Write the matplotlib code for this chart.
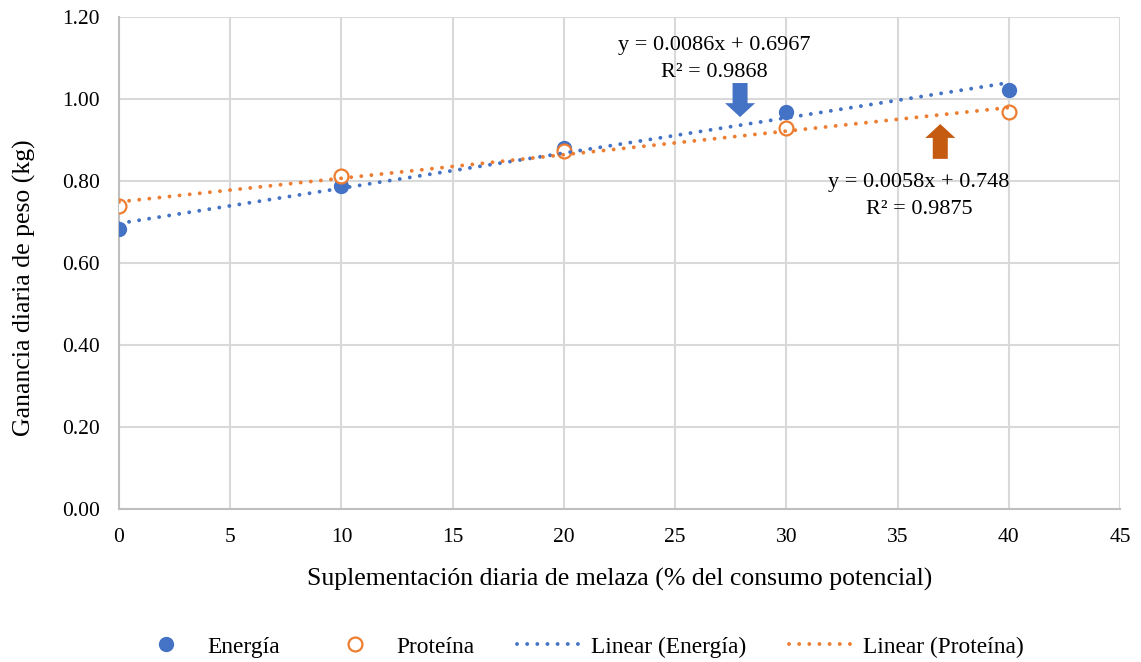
import matplotlib
matplotlib.use("Agg")
import matplotlib.pyplot as plt
import numpy as np

plt.rcParams['font.family'] = ['Liberation Serif', 'DejaVu Serif']

x_vals = [0, 10, 20, 30, 40]
energia = [0.683, 0.788, 0.880, 0.968, 1.022]
proteina = [0.739, 0.812, 0.873, 0.929, 0.968]
xticks = list(range(0, 50, 5))
yticks = [0.0, 0.2, 0.4, 0.6, 0.8, 1.0, 1.2]

blue = '#4472C4'
orange = '#ED7D31'
dark_orange = '#C55A11'

fig = plt.figure(figsize=(11.41, 6.62), dpi=100)
ax = fig.add_axes([0.1043, 0.2311, 0.9816 - 0.1043, 0.9743 - 0.2311])

xs = np.array(x_vals, dtype=float)
ce = np.polyfit(xs, energia, 1)
cp = np.polyfit(xs, proteina, 1)
xl = np.array([0, 40])

ax.plot(xs, energia, 'o', color=blue, markersize=10, label='Energía', zorder=3)
ax.plot(xs, proteina, 'o', markerfacecolor='white', markeredgecolor=orange,
        markeredgewidth=1.6, markersize=10, label='Proteína', zorder=3)
ax.plot(xl, np.polyval(ce, xl), linestyle=(0, (0.01, 2.6)), color=blue, linewidth=2.8,
        dash_capstyle='round', label='Linear (Energía)', zorder=4)
ax.plot(xl, np.polyval(cp, xl), linestyle=(0, (0.01, 2.6)), color=orange, linewidth=2.8,
        dash_capstyle='round', label='Linear (Proteína)', zorder=4)

ax.set_xlim(0, 45)
ax.set_ylim(0, 1.2)
ax.set_xticks(xticks)
ax.set_yticks(yticks)
ax.set_yticklabels([f'{v:.2f}' for v in yticks])
ax.tick_params(axis='both', length=0, labelsize=15.5)
ax.tick_params(axis='x', pad=14)
ax.tick_params(axis='y', pad=14)
ax.grid(True, color='#D9D9D9', linewidth=1.5)
ax.set_axisbelow(True)
for s in ['top', 'right']:
    ax.spines[s].set_visible(False)
ax.spines['left'].set_color('#BFBFBF')
ax.spines['bottom'].set_color('#BFBFBF')
ax.spines['left'].set_linewidth(1.5)
ax.spines['bottom'].set_linewidth(1.5)

ax.set_xlabel('Suplementación diaria de melaza (% del consumo potencial)', fontsize=18.5)
ax.set_ylabel('Ganancia diaria de peso (kg)', fontsize=18.5)
ax.xaxis.set_label_coords(0.5, -0.120)
ax.yaxis.set_label_coords(-0.083, 0.449)

ax.text(26.75, 1.098, 'y = 0.0086x + 0.6967\nR² = 0.9868', ha='center', va='center',
        fontsize=16, linespacing=1.55)
ax.text(35.97, 0.764, 'y = 0.0058x + 0.748\nR² = 0.9875', ha='center', va='center',
        fontsize=16, linespacing=1.55)

arrow_style = 'simple,head_length=1.0,head_width=2.16,tail_width=1.08'
ax.annotate('', xy=(27.92, 0.956), xytext=(27.92, 1.039),
            arrowprops=dict(arrowstyle=arrow_style, color=blue, mutation_scale=10,
                            shrinkA=0, shrinkB=0, linewidth=0))
ax.annotate('', xy=(36.92, 0.939), xytext=(36.92, 0.854),
            arrowprops=dict(arrowstyle=arrow_style, color=dark_orange, mutation_scale=10,
                            shrinkA=0, shrinkB=0, linewidth=0))

fig.legend(loc='center', bbox_to_anchor=(0.507, 0.0227), ncol=4, frameon=False,
           fontsize=16.8, handlelength=2.8, columnspacing=1.85, handletextpad=0.35)

fig.savefig('out.png', dpi=100)
